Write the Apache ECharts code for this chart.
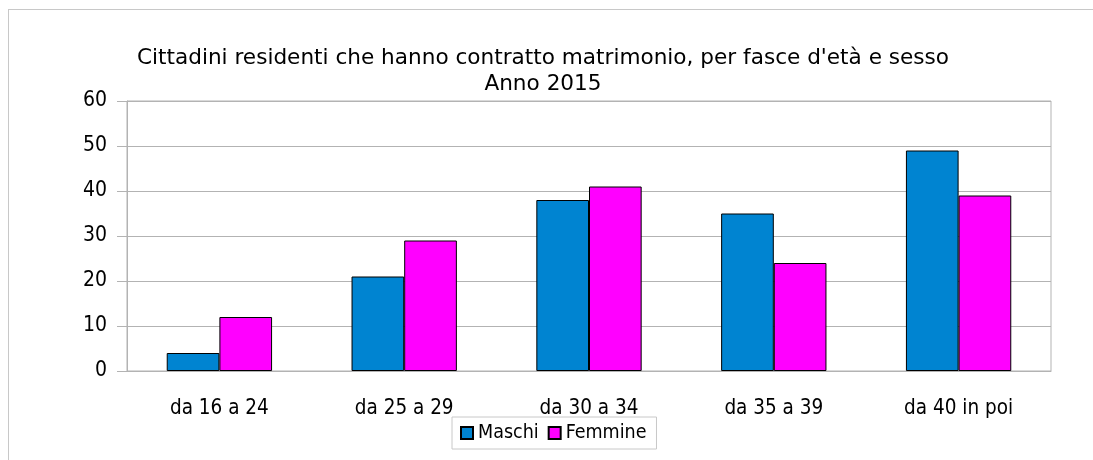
<!DOCTYPE html>
<html>
<head>
<meta charset="utf-8">
<script src="https://cdn.jsdelivr.net/npm/echarts@6/dist/echarts.min.js"></script>
<style>
    html, body {
        margin: 0;
        padding: 0;
        background: #fff;
        overflow: hidden;
    }
    .frame {
        position: absolute;
        left: 8px;
        top: 9px;
        right: 0;
        bottom: 0;
        border-left: 1px solid #c8c8c8;
        border-top: 1px solid #c8c8c8;
        pointer-events: none;
    }
    #chart {
        width: 1093px;
        height: 460px;
    }
</style>
</head>
<body>
<div id="chart"></div>
<div class="frame"></div>
<script>
const categories = ['da 16 a 24', 'da 25 a 29', 'da 30 a 34', 'da 35 a 39', 'da 40 in poi']
const maschi = [4, 21, 38, 35, 49]
const femmine = [12, 29, 41, 24, 39]
const titleLines = [
    'Cittadini residenti che hanno contratto matrimonio, per fasce d\'età e sesso',
    'Anno 2015'
]

const font = '"DejaVu Sans Condensed", "DejaVu Sans"'
const gridColor = '#b3b3b3'

const chart = echarts.init(document.getElementById('chart'))
chart.setOption({
    animation: false,
    title: {
        text: titleLines.join('\n'),
        left: 538,
        textAlign: 'center',
        top: 40,
        textStyle: {
            fontFamily: '"DejaVu Sans"',
            fontSize: 21.6,
            fontWeight: 'normal',
            color: '#000',
            lineHeight: 26
        }
    },
    legend: {
        left: 452,
        top: 417,
        padding: [6, 10, 6, 8],
        borderColor: '#c8c8c8',
        borderWidth: 1,
        itemWidth: 12,
        itemHeight: 12,
        itemGap: 9,
        icon: 'rect',
        textStyle: {
            fontFamily: font,
            fontSize: 19.5,
            color: '#000'
        },
        data: ['Maschi', 'Femmine']
    },
    grid: {
        left: 127,
        right: 42,
        top: 101,
        bottom: 89,
        show: true,
        borderColor: gridColor,
        borderWidth: 1
    },
    xAxis: {
        type: 'category',
        data: categories,
        axisLine: { lineStyle: { color: gridColor } },
        axisTick: { length: 12, lineStyle: { color: gridColor } },
        axisLabel: {
            fontFamily: font,
            fontSize: 20.5,
            color: '#000',
            margin: 27
        }
    },
    yAxis: {
        type: 'value',
        min: 0,
        max: 60,
        interval: 10,
        axisLine: { show: true, lineStyle: { color: gridColor } },
        axisTick: { show: true, length: 10, lineStyle: { color: gridColor } },
        splitLine: { lineStyle: { color: gridColor } },
        axisLabel: {
            fontFamily: font,
            fontSize: 21,
            color: '#000',
            margin: 20
        }
    },
    series: [
        {
            name: 'Maschi',
            type: 'bar',
            data: maschi,
            barGap: '0%',
            barCategoryGap: '43%',
            itemStyle: { color: '#0084d1', borderColor: '#000', borderWidth: 1 }
        },
        {
            name: 'Femmine',
            type: 'bar',
            data: femmine,
            itemStyle: { color: '#ff00ff', borderColor: '#000', borderWidth: 1 }
        }
    ]
})
</script>
</body>
</html>
